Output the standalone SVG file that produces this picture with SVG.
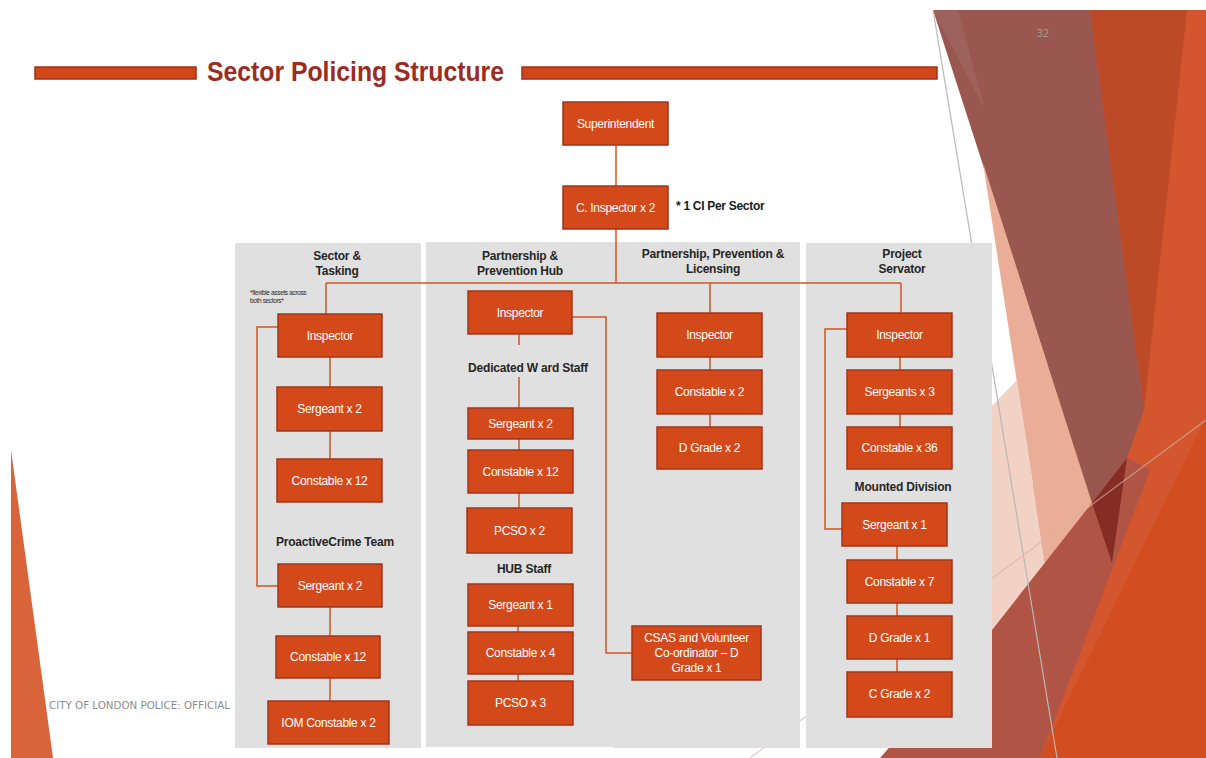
<svg xmlns="http://www.w3.org/2000/svg" width="1206" height="758" viewBox="0 0 1206 758">
  <style>
    .box rect { fill: #d4491a; stroke: #a2351a; stroke-width: 1.5; }
    .box text { font-family: "Liberation Sans", Arial, sans-serif; font-size: 12px; fill: #ffffff; text-anchor: middle; letter-spacing: -0.3px; }
    .panel { fill: #e0e0e0; }
    .head { font-family: "Liberation Sans", Arial, sans-serif; font-size: 12px; font-weight: bold; fill: #262626; text-anchor: middle; letter-spacing: -0.2px; }
    .note { font-family: "Liberation Sans", Arial, sans-serif; font-size: 12px; font-weight: bold; fill: #1a1a1a; text-anchor: start; letter-spacing: -0.3px; }
    .tiny { font-family: "Liberation Sans", Arial, sans-serif; font-size: 6.5px; fill: #2a2a2a; letter-spacing: -0.35px; }
    .conn { fill: none; stroke: #d4541f; stroke-width: 1.5; }
    .bar { fill: #d2471a; stroke: #9e3116; stroke-width: 1.5; }
  </style>

  <rect width="1206" height="758" fill="#ffffff"/>

  <!-- right-hand facet decoration -->
  <g id="decoration">
    <polygon points="1090,10 1206,10 1206,758 1000,758" fill="#d3562f"/>
    <polygon points="1090,10 1187,10 1144,410" fill="#bd4a26"/>
    <polygon points="933,10 1090,10 1144,410 1127,458 1092,503" fill="#9a5750"/>
    <polygon points="933,10 958,10 985,110" fill="#9e625c"/>
    <polygon points="983,163 1092,503 1045,563" fill="#eaae98"/>
    <polygon points="1017,380 1045,563 992,630 930,650 930,470" fill="#f3d2c6"/>
    <polygon points="880,758 992,630 1092,503 1127,458 1150,470 1040,758" fill="#b05445"/>
    <polygon points="1092,503 1127,458 1112,563" fill="#852d23"/>
    <polygon points="1040,758 1206,417 1206,758" fill="#d24e20"/>
    <line x1="933" y1="10" x2="1057" y2="758" stroke="#b8b8b8" stroke-width="1.2"/>
    <line x1="750" y1="758" x2="1206" y2="420" stroke="#d4b2a6" stroke-width="1.2" stroke-opacity="0.7"/>
    <polygon points="11,450 53,758 11,758" fill="#d9643a"/>
  </g>

  <!-- slide title -->
  <g id="title">
    <rect class="bar" x="35" y="67" width="161" height="12"/>
    <rect class="bar" x="522" y="67" width="415" height="12"/>
    <text x="207" y="81" font-family="'Liberation Sans', Arial, sans-serif" font-size="28" font-weight="bold" fill="#9b2c1f" textLength="297" lengthAdjust="spacingAndGlyphs">Sector Policing Structure</text>
    <text x="1043" y="37" font-family="'DejaVu Sans', sans-serif" font-size="10" fill="#9a9a9a" text-anchor="middle">32</text>
  </g>

  <!-- sector panels -->
  <g id="panels">
    <rect class="panel" x="235" y="243" width="186" height="505"/>
    <rect class="panel" x="426" y="242" width="187" height="505"/>
    <rect class="panel" x="613" y="242" width="187" height="506"/>
    <rect class="panel" x="806" y="243" width="186" height="505"/>
  </g>

  <g id="headings">
    <text class="head" x="337" y="260">Sector &amp;</text>
    <text class="head" x="337" y="275">Tasking</text>
    <text class="head" x="520" y="260">Partnership &amp;</text>
    <text class="head" x="520" y="275">Prevention Hub</text>
    <text class="head" x="713" y="258">Partnership, Prevention &amp;</text>
    <text class="head" x="713" y="273">Licensing</text>
    <text class="head" x="902" y="258">Project</text>
    <text class="head" x="902" y="273">Servator</text>
    <text class="head" x="528" y="372">Dedicated W ard Staff</text>
    <text class="head" x="524" y="573">HUB Staff</text>
    <text class="head" x="335" y="546">ProactiveCrime Team</text>
    <text class="head" x="903" y="491">Mounted Division</text>
    <text class="note" x="676" y="210">* 1 CI Per Sector</text>
    <text class="tiny" x="250" y="295">*flexible assets across</text>
    <text class="tiny" x="250" y="303">both sectors*</text>
  </g>

  <g id="connectors">
    <path class="conn" d="M616,145 V186"/>
    <path class="conn" d="M616,229 V283"/>
    <path class="conn" d="M326,283 H901"/>
    <path class="conn" d="M326,283 V314"/>
    <path class="conn" d="M710,283 V313"/>
    <path class="conn" d="M901,283 V313"/>
    <path class="conn" d="M330,357 V387"/>
    <path class="conn" d="M330,431 V459"/>
    <path class="conn" d="M278,327 H257 V586 H278"/>
    <path class="conn" d="M330,607 V636"/>
    <path class="conn" d="M330,678 V701"/>
    <path class="conn" d="M519,334 V345"/>
    <path class="conn" d="M519,377 V408"/>
    <path class="conn" d="M519,439 V450"/>
    <path class="conn" d="M519,493 V508"/>
    <path class="conn" d="M518,626 V632"/>
    <path class="conn" d="M518,674 V681"/>
    <path class="conn" d="M572,317 H606 V653 H632"/>
    <path class="conn" d="M710,357 V370"/>
    <path class="conn" d="M710,414 V427"/>
    <path class="conn" d="M900,357 V370"/>
    <path class="conn" d="M900,414 V427"/>
    <path class="conn" d="M847,329 H825 V529 H842"/>
    <path class="conn" d="M897,546 V560"/>
    <path class="conn" d="M897,603 V616"/>
    <path class="conn" d="M897,659 V672"/>
  </g>

  <g id="superintendent" class="box"><rect x="563" y="102" width="105" height="43"/><text x="615.5" y="127.5">Superintendent</text></g>
  <g id="chief-inspector" class="box"><rect x="563" y="186" width="105" height="43"/><text x="615.5" y="211.5">C. Inspector x 2</text></g>

  <g id="st-inspector" class="box"><rect x="278" y="314" width="104" height="43"/><text x="330" y="339.5">Inspector</text></g>
  <g id="st-sergeant" class="box"><rect x="277" y="387" width="105" height="44"/><text x="329.5" y="413">Sergeant x 2</text></g>
  <g id="st-constable" class="box"><rect x="277" y="459" width="105" height="43"/><text x="329.5" y="484.5">Constable x 12</text></g>
  <g id="pct-sergeant" class="box"><rect x="278" y="564" width="104" height="43"/><text x="330" y="589.5">Sergeant x 2</text></g>
  <g id="pct-constable" class="box"><rect x="276" y="636" width="104" height="42"/><text x="328" y="661">Constable x 12</text></g>
  <g id="iom-constable" class="box"><rect x="268" y="701" width="121" height="43"/><text x="328.5" y="726.5">IOM Constable x 2</text></g>

  <g id="pph-inspector" class="box"><rect x="468" y="291" width="104" height="43"/><text x="520" y="316.5">Inspector</text></g>
  <g id="dws-sergeant" class="box"><rect x="468" y="408" width="105" height="31"/><text x="520.5" y="427.5">Sergeant x 2</text></g>
  <g id="dws-constable" class="box"><rect x="468" y="450" width="105" height="43"/><text x="520.5" y="475.5">Constable x 12</text></g>
  <g id="dws-pcso" class="box"><rect x="467" y="508" width="105" height="45"/><text x="519.5" y="534.5">PCSO x 2</text></g>
  <g id="hub-sergeant" class="box"><rect x="468" y="584" width="105" height="42"/><text x="520.5" y="609">Sergeant x 1</text></g>
  <g id="hub-constable" class="box"><rect x="468" y="632" width="105" height="42"/><text x="520.5" y="657">Constable x 4</text></g>
  <g id="hub-pcso" class="box"><rect x="468" y="681" width="105" height="44"/><text x="520.5" y="707">PCSO x 3</text></g>
  <g id="csas" class="box"><rect x="632" y="626" width="129" height="54"/><text x="696.5" y="642">CSAS and Volunteer</text><text x="696.5" y="657">Co-ordinator – D</text><text x="696.5" y="672">Grade x 1</text></g>

  <g id="ppl-inspector" class="box"><rect x="657" y="313" width="105" height="44"/><text x="709.5" y="339">Inspector</text></g>
  <g id="ppl-constable" class="box"><rect x="657" y="370" width="105" height="44"/><text x="709.5" y="396">Constable x 2</text></g>
  <g id="ppl-dgrade" class="box"><rect x="657" y="427" width="105" height="42"/><text x="709.5" y="452">D Grade x 2</text></g>

  <g id="ps-inspector" class="box"><rect x="847" y="313" width="105" height="44"/><text x="899.5" y="339">Inspector</text></g>
  <g id="ps-sergeants" class="box"><rect x="847" y="370" width="105" height="44"/><text x="899.5" y="396">Sergeants x 3</text></g>
  <g id="ps-constable" class="box"><rect x="847" y="427" width="105" height="42"/><text x="899.5" y="452">Constable x 36</text></g>
  <g id="md-sergeant" class="box"><rect x="842" y="503" width="105" height="43"/><text x="894.5" y="528.5">Sergeant x 1</text></g>
  <g id="md-constable" class="box"><rect x="847" y="560" width="105" height="43"/><text x="899.5" y="585.5">Constable x 7</text></g>
  <g id="md-dgrade" class="box"><rect x="847" y="616" width="105" height="43"/><text x="899.5" y="641.5">D Grade x 1</text></g>
  <g id="md-cgrade" class="box"><rect x="847" y="672" width="105" height="45"/><text x="899.5" y="698">C Grade x 2</text></g>

  <text x="49" y="709" font-family="'DejaVu Sans Condensed', 'DejaVu Sans', sans-serif" font-size="10" fill="#8c8c8c" textLength="181" lengthAdjust="spacingAndGlyphs">CITY OF LONDON POLICE: OFFICIAL</text>
</svg>
